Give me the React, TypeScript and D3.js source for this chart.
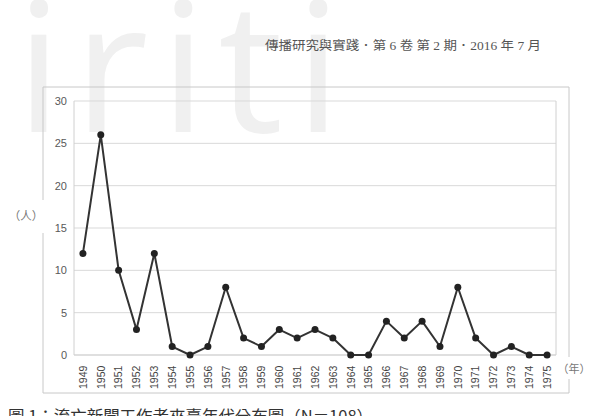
import React from "react";
import * as d3 from "d3";

const years = ["1949","1950","1951","1952","1953","1954","1955","1956","1957","1958","1959","1960","1961","1962","1963","1964","1965","1966","1967","1968","1969","1970","1971","1972","1973","1974","1975"];
const counts = [12,26,10,3,12,1,0,1,8,2,1,3,2,3,2,0,0,4,2,4,1,8,2,0,1,0,0];
const yTicks = [0,5,10,15,20,25,30];
const headerText = "傳播研究與實踐．第 6 卷 第 2 期．2016 年 7 月";
const captionText = "圖 1：流亡新聞工作者來臺年代分布圖（N＝108）";
const yUnit = "（人）";
const xUnit = "（年）";

const W = 589, H = 416;
const plot = { left: 74, right: 556, top: 101, bottom: 355 };

export default function App() {
  const x = d3.scaleBand<string>().domain(years).range([plot.left, plot.right]).padding(0);
  const y = d3.scaleLinear().domain([0, 30]).range([plot.bottom, plot.top]);
  const cx = (yr: string) => (x(yr) as number) + x.bandwidth() / 2;
  const line = d3.line<number>().x((_, i) => cx(years[i])).y(d => y(d));
  const sans = "Liberation Sans, Arial, sans-serif";
  return (
    <svg width={W} height={H} style={{ position: "absolute", left: 0, top: 0, background: "#fff" }}>
      <text x={16} y={132} fontFamily="Open Sans, sans-serif" fontSize={182} fill="#f0f0f0" letterSpacing={12}>iriti</text>
      <text x={265} y={50} fontFamily="Liberation Serif, Noto Sans CJK TC, serif" fontSize={12.5} fill="#555" textLength={276} lengthAdjust="spacingAndGlyphs">{headerText}</text>
      {/* outer frame */}
      <path d={`M43,200 V87 H569 V357 M569,379 V393 H43 V233`} fill="none" stroke="#c8c8c8" strokeWidth={1} />
      <text x={26} y={220} textAnchor="middle" fontFamily="Noto Sans CJK TC, sans-serif" fontSize={11.5} fill="#777">{yUnit}</text>
      <text x={574} y={373} textAnchor="middle" fontFamily="Noto Sans CJK TC, sans-serif" fontSize={11} fill="#777">{xUnit}</text>
      {/* gridlines */}
      {yTicks.map(t => (
        <g key={t}>
          <line x1={plot.left} x2={plot.right} y1={y(t)} y2={y(t)} stroke={t === 0 ? "#bfbfbf" : "#d9d9d9"} strokeWidth={1} />
          <text x={67} y={y(t)} dy="0.35em" textAnchor="end" fontFamily={sans} fontSize={11} fill="#595959">{t}</text>
        </g>
      ))}
      <line x1={plot.left} x2={plot.left} y1={plot.top} y2={plot.bottom} stroke="#d0d0d0" />
      <line x1={plot.right} x2={plot.right} y1={plot.top} y2={plot.bottom} stroke="#d0d0d0" />
      {years.map(yr => (
        <text key={yr} transform={`translate(${cx(yr) + 3.8},${389}) rotate(-90)`} fontFamily={sans} fontSize={10.5} fill="#444">{yr}</text>
      ))}
      <path d={line(counts) || ""} fill="none" stroke="#333" strokeWidth={2} strokeLinejoin="round" />
      {counts.map((c, i) => (
        <circle key={i} cx={cx(years[i])} cy={y(c)} r={3.5} fill="#222" />
      ))}
      <text x={8} y={422} fontFamily="Noto Sans CJK TC, serif" fontSize={16} fill="#333" textLength={365} lengthAdjust="spacingAndGlyphs">{captionText}</text>
    </svg>
  );
}
